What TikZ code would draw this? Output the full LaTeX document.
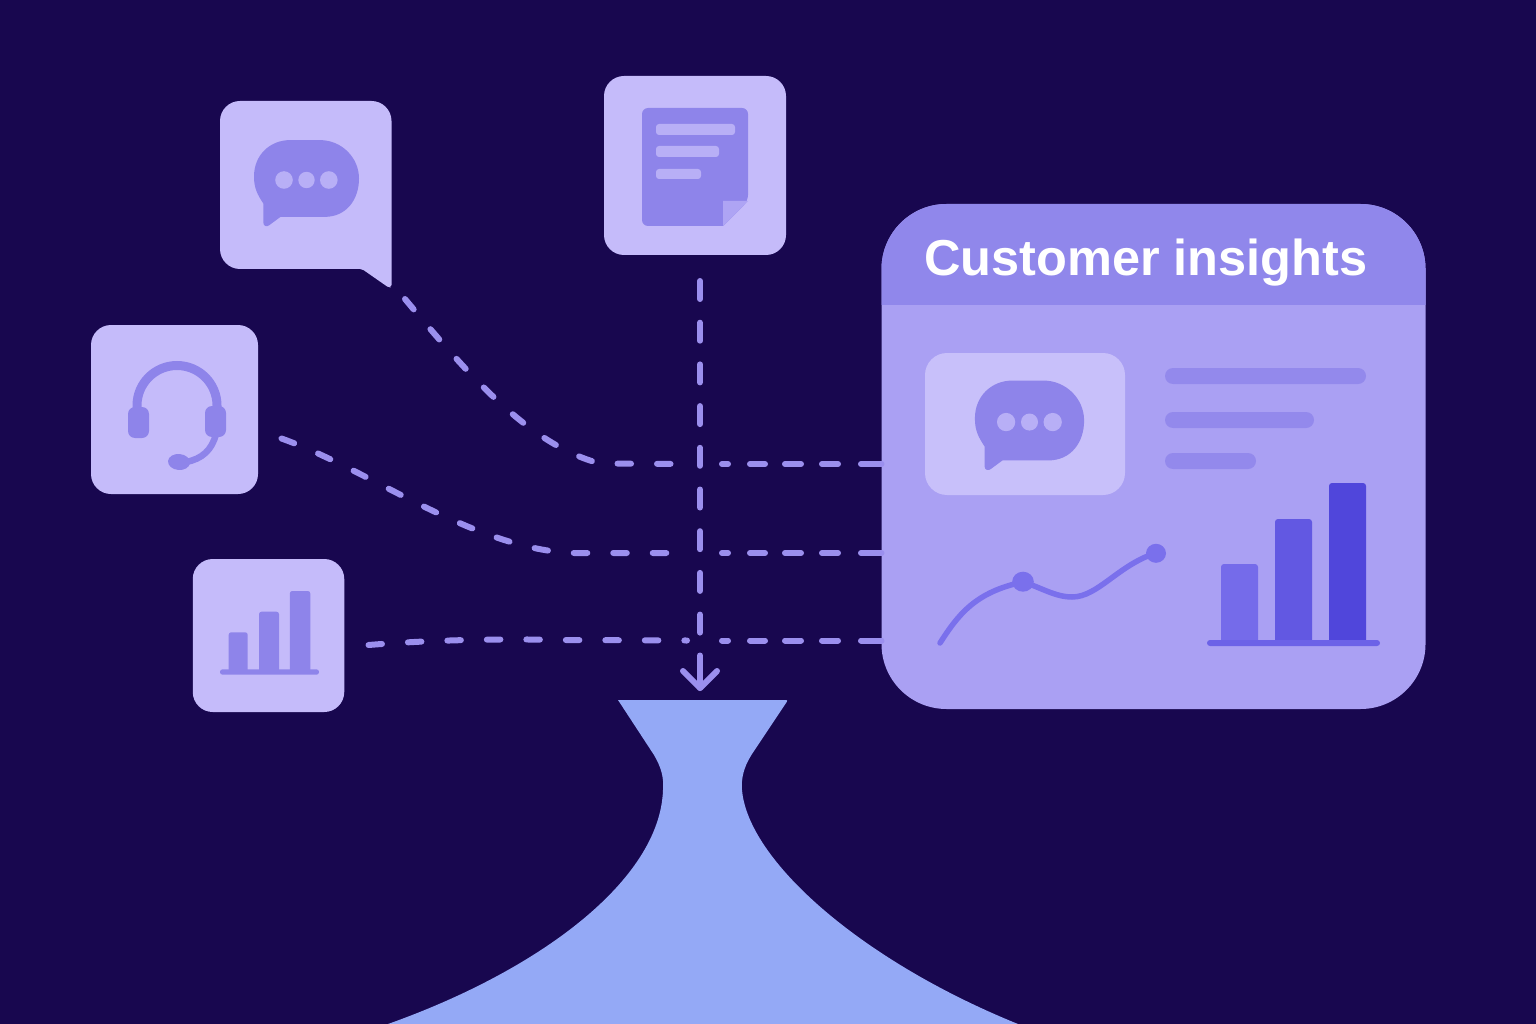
\documentclass[tikz,border=0pt]{standalone}
\usepackage{fontspec}
\newfontfamily\titlefont{Liberation Sans}
\usetikzlibrary{arrows.meta}
\definecolor{bgc}{HTML}{18074F}
\definecolor{tilec}{HTML}{C5BBFA}
\definecolor{glyphc}{HTML}{8E84EA}
\definecolor{dotc}{HTML}{B8AFF6}
\definecolor{foldc}{HTML}{AEA4F4}
\definecolor{dashc}{HTML}{9B8FEE}
\definecolor{funnelc}{HTML}{94A9F6}
\definecolor{headc}{HTML}{9087EB}
\definecolor{panelc}{HTML}{AAA0F3}
\definecolor{innerc}{HTML}{C8C0FA}
\definecolor{linec}{HTML}{9389EC}
\definecolor{plotc}{HTML}{7A70EC}
\definecolor{barA}{HTML}{756BEA}
\definecolor{barB}{HTML}{6258E2}
\definecolor{barC}{HTML}{5046DB}
\definecolor{baseln}{HTML}{6C62E7}
\tikzset{
  tile/.style={fill=tilec,rounded corners=20pt,inner sep=0pt,outer sep=0pt},
  link/.style={draw=dashc,line width=6pt,line cap=round},
  curvedash/.style={link,dash pattern=on 13.5pt off 26pt},
  rightdash/.style={link,dash pattern=on 6pt off 22pt on 15pt off 20pt on 16pt off 21pt on 16pt off 23pt on 40pt off 40pt},
  vertdash/.style={link,dash pattern=on 18pt off 23.7pt},
  chatglyph/.pic={
    \fill[glyphc] (-16.5,-38.4) -- (13.5,-38.4) .. controls (35,-38.4) and (52.5,-21) .. (52.5,0)
      .. controls (52.5,21) and (40,38.4) .. (18,38.4) -- (-26,38.4) -- (-37,46.5)
      .. controls (-39.5,48.5) and (-43.2,48) .. (-43.2,44) -- (-43.2,25)
      .. controls (-49,16) and (-52.5,10) .. (-52.5,-2)
      .. controls (-52.5,-24) and (-36,-38.4) .. (-16.5,-38.4) -- cycle;
    \fill[dotc] (-22.5,1.5) circle (8.8pt) (0,1.5) circle (8.2pt) (22.3,1.5) circle (8.8pt);
  }
}
\begin{document}
\begin{tikzpicture}[x=1pt,y=-1pt]
\useasboundingbox (0,0) rectangle (1536,1024);
\fill[bgc] (0,0) rectangle (1536,1024);

% funnel
\path[fill=funnelc,rounded corners=2pt] (618,700) -- (788,700) -- (752,754)
  [sharp corners] .. controls (744,767) and (741,778) .. (742,790)
  .. controls (748,860) and (860,960) .. (1018,1024) -- (388,1024)
  .. controls (540,970) and (660,880) .. (663,790) .. controls (664,777) and (661,767) .. (654,755) -- cycle;
\coordinate (funnelTop) at (700,688);

% panel
\node[fill=panelc,rounded corners=65pt,inner sep=0pt,outer sep=0pt,minimum width=544pt,minimum height=505pt] (panel) at (1153.5,456.5) {};
\begin{scope}
  \clip[rounded corners=65pt] (881.5,204) rectangle (1425.5,709);
  \fill[headc] (881,204) rectangle (1426,305);
\end{scope}
\node[text=white,font=\titlefont\fontsize{50.5}{60}\selectfont\bfseries,anchor=base west,inner sep=0pt] (title) at (924,275.5) {Customer insights};
\node[fill=innerc,rounded corners=22pt,inner sep=0pt,minimum width=200pt,minimum height=142pt] (inner) at (1025,424) {};
\pic[scale=1.04] at (1029.5,420.5) {chatglyph};
\fill[linec,rounded corners=8pt] (1165,368) rectangle (1366,384);
\fill[linec,rounded corners=8pt] (1165,412) rectangle (1314,428);
\fill[linec,rounded corners=8pt] (1165,453) rectangle (1256,469);
% line chart
\draw[plotc,line width=5.5pt,line cap=round] (940,643) .. controls (958,615) and (975,592) .. (1023,582)
  .. controls (1040,587) and (1055,597) .. (1072,597) .. controls (1098,597) and (1118,565) .. (1156,553);
\fill[plotc] (1023,581.7) ellipse (10.8pt and 10pt) (1156,553.3) ellipse (10pt and 9.5pt);
% bars
\fill[barA,rounded corners=3pt] (1221,564) rectangle (1258,644);
\fill[barB,rounded corners=3pt] (1275,519) rectangle (1312,644);
\fill[barC,rounded corners=3pt] (1329,483) rectangle (1366,644);
\fill[baseln,rounded corners=3pt] (1207,640) rectangle (1380,646);

% chat tile
\fill[tilec,rounded corners=20pt] (305,101) -- (391.5,101) -- (391.5,200)
  [rounded corners=2pt] -- (391.5,287) -- (389,287.8) -- (362,269) [rounded corners=20pt] -- (220,269) -- (220,101) -- cycle;
\pic at (306.5,178.5) {chatglyph};

% headset tile
\node[tile,minimum width=167pt,minimum height=169pt] (head) at (174.5,409.5) {};
\draw[glyphc,line width=9pt] (137,410) -- (137,405.5) arc[start angle=180,end angle=0,radius=40pt] -- (217,410);
\fill[glyphc,rounded corners=7pt] (128,407) rectangle (149,438);
\fill[glyphc,rounded corners=7pt] (205,406) rectangle (226,437);
\draw[glyphc,line width=6.5pt] (216,434) .. controls (212,450) and (202,459) .. (186,462);
\fill[glyphc,rotate around={-5:(179,462)}] (179,462) ellipse (11pt and 8pt);

% doc tile
\node[tile,minimum width=182pt,minimum height=179pt] (doc) at (695,165.5) {};
\fill[glyphc,rounded corners=6pt] (642,108) -- (748,108) -- (748,201) [sharp corners] -- (723,226) [rounded corners=6pt] -- (642,226) -- cycle;
\fill[foldc] (723,201) -- (748,201) -- (723,226) -- cycle;
\fill[dotc,rounded corners=3pt] (656,124) rectangle (735,135);
\fill[dotc,rounded corners=3pt] (656,146) rectangle (719,157);
\fill[dotc,rounded corners=3pt] (656,169) rectangle (701,179);

% chart tile
\node[tile,minimum width=151.5pt,minimum height=153pt] (chart) at (268.5,635.5) {};
\fill[glyphc,rounded corners=2.5pt] (228.7,632.3) rectangle (247.7,672);
\fill[glyphc,rounded corners=2.5pt] (259,611.7) rectangle (279,672);
\fill[glyphc,rounded corners=2.5pt] (289.8,591) rectangle (310.3,672);
\fill[glyphc,rounded corners=2.5pt] (220,669.3) rectangle (319,674.7);

% connector ends
\coordinate (chatOut) at (405,299);
\coordinate (headOut) at (281.5,438.5);
\coordinate (chartOut) at (368.5,645);
\coordinate (docOut) at (700,281);
\coordinate (bendA) at (688,464);
\coordinate (bendB) at (678,553);
\coordinate (bendC) at (687,640.5);
\coordinate (crossA) at (722,464);
\coordinate (crossB) at (722,553);
\coordinate (crossC) at (722,640.5);
\coordinate (panelA) at (panel.west |- crossA);
\coordinate (panelB) at (panel.west |- crossB);
\coordinate (panelC) at (panel.west |- crossC);
\coordinate (docEnd) at (700,640);
\coordinate (arrowStart) at (700,655.5);

\draw[curvedash] (chatOut) .. controls (470,377) and (530,445) .. (600,463.5) -- (bendA);
\draw[curvedash] (headOut) .. controls (370,470) and (470,547) .. (570,553) -- (bendB);
\draw[curvedash] (chartOut) .. controls (430,640) and (500,638.5) .. (560,640) -- (bendC);
\draw[rightdash] (crossA) -- (panelA);
\draw[rightdash] (crossB) -- (panelB);
\draw[rightdash] (crossC) -- (panelC);
\draw[vertdash] (docOut) -- (docEnd);
\draw[link,line join=round] (arrowStart) -- (funnelTop);
\draw[link,line join=round] (683,671) -- (funnelTop) -- (717,671);
\end{tikzpicture}
\end{document}
